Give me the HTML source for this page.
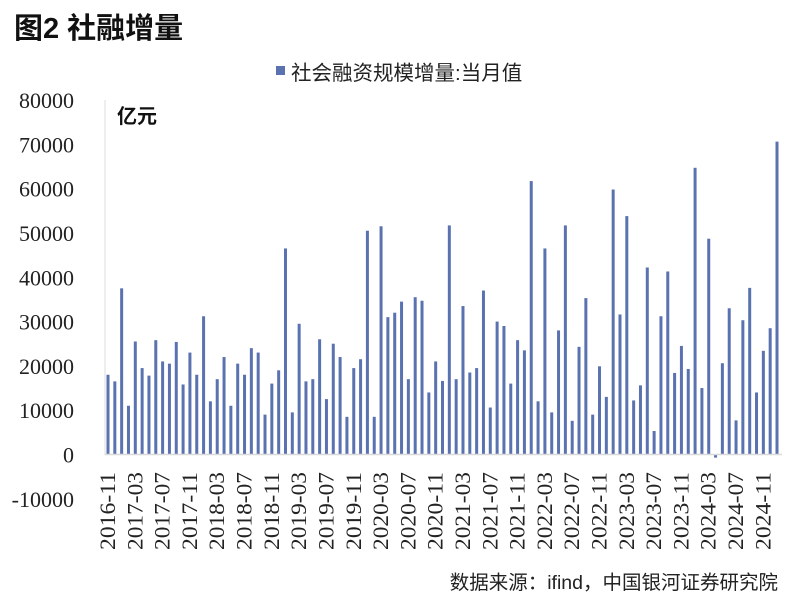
<!DOCTYPE html>
<html><head><meta charset="utf-8">
<style>
body{margin:0;background:#fff;}
svg text{font-family:"Liberation Sans","Noto Sans CJK SC",sans-serif;}
svg text.num{font-family:"Liberation Serif","Noto Serif CJK SC",serif;}
</style></head>
<body>
<svg id="chart" width="800" height="607" xmlns="http://www.w3.org/2000/svg">
<text x="14" y="38" font-size="29" font-weight="bold" fill="#111">图2  社融增量</text>
<rect x="276" y="66" width="9" height="9" fill="#5a72b0"/>
<text x="291" y="80" font-size="20.5" fill="#222">社会融资规模增量:当月值</text>
<text x="117" y="123" font-size="20" font-weight="bold" fill="#111">亿元</text>
<line x1="105" y1="100" x2="105" y2="455" stroke="#ddd" stroke-width="1"/>
<g id="yticks"></g><g id="bars"></g><g id="xticks"></g>
<line x1="105" y1="454.5" x2="782" y2="454.5" stroke="#d9d9d9" stroke-width="1.5"/>
<text x="778" y="589" font-size="19.5" text-anchor="end" fill="#222">数据来源：ifind，中国银河证券研究院</text>
</svg>
<script>
const startYear=2016, startMonth=11;
const values=[18000,16500,37500,11000,25500,19500,17800,25800,21000,20500,25400,15800,23000,18000,31200,12000,17000,22000,11000,20500,18000,24000,23000,9000,16000,19000,46500,9500,29500,16500,17000,26000,12500,25000,22000,8500,19500,21500,50500,8500,51500,31000,32000,34500,17000,35500,34700,14000,21000,16600,51700,17000,33500,18500,19500,37000,10600,30000,29000,16000,25800,23500,61700,12000,46500,9500,28000,51700,7600,24300,35300,9000,19900,13000,59800,31600,53800,12200,15600,42200,5300,31200,41300,18400,24500,19300,64700,15000,48700,-700,20600,33000,7700,30300,37600,14000,23400,28500,70600];
const yTicks=[-10000,0,10000,20000,30000,40000,50000,60000,70000,80000];
const NS="http://www.w3.org/2000/svg";
const y0=454.5, pxPer=(454.5-100)/80000;
const yScale=v=>y0-v*pxPer;
const x0=108, step=(777-108)/(values.length-1);
const xScale=i=>x0+i*step;
const yt=document.getElementById('yticks');
yTicks.forEach(t=>{const e=document.createElementNS(NS,'text');


e.setAttribute('class','num');
e.setAttribute('x',74);e.setAttribute('y',yScale(t)+8);e.setAttribute('font-size','22');e.setAttribute('text-anchor','end');e.setAttribute('fill','#222');e.textContent=t;yt.appendChild(e);});
const bg=document.getElementById('bars'), xt=document.getElementById('xticks');
values.forEach((v,i)=>{const r=document.createElementNS(NS,'rect');


const top=Math.min(yScale(v),y0), h=Math.max(Math.abs(yScale(v)-y0),1);
r.setAttribute('x',xScale(i)-1.5);r.setAttribute('y',top);r.setAttribute('width',3);r.setAttribute('height',h);r.setAttribute('fill','#5a72b0');bg.appendChild(r);
if(i%4===0){const m=(startMonth-1+i),yr=startYear+Math.floor(m/12),mo=m%12+1;
const t=document.createElementNS(NS,'text');


t.setAttribute('class','num');
const x=xScale(i)+7;t.setAttribute('transform','translate('+x+',472) rotate(-90)');t.setAttribute('text-anchor','end');t.setAttribute('font-size','22');t.setAttribute('textLength','78');t.setAttribute('lengthAdjust','spacingAndGlyphs');t.setAttribute('fill','#222');
t.textContent=yr+'-'+(mo<10?'0':'')+mo;xt.appendChild(t);}});
</script>
</body></html>
